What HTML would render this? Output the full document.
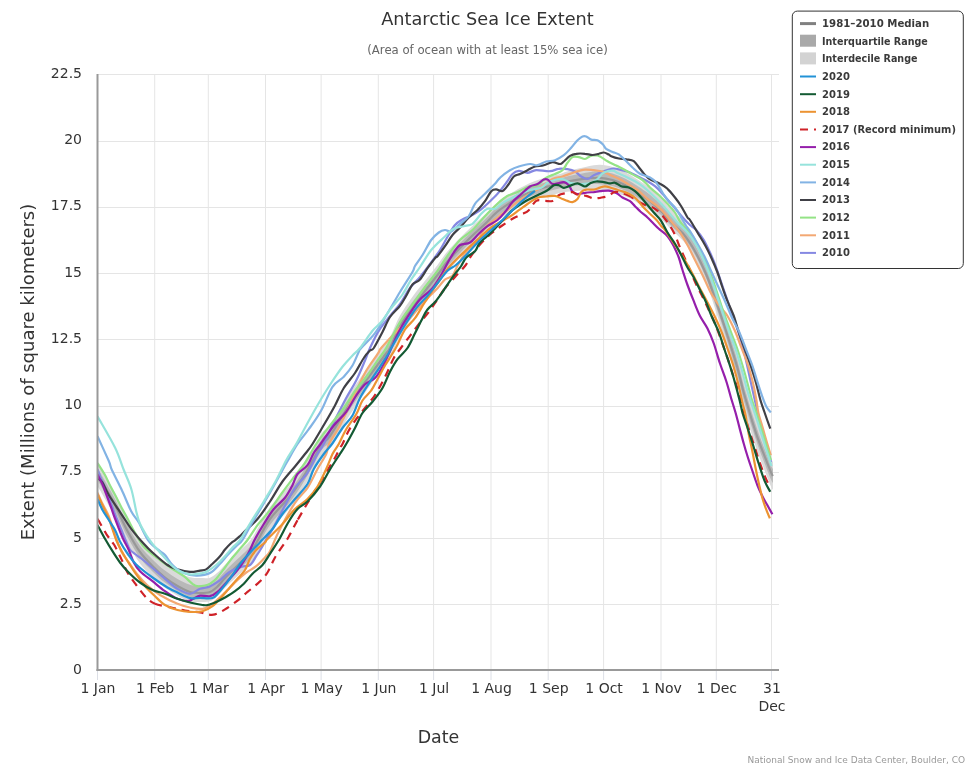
<!DOCTYPE html>
<html lang="en"><head><meta charset="utf-8"><title>Antarctic Sea Ice Extent</title>
<style>
html,body{margin:0;padding:0;background:#fff;}
body{width:975px;height:768px;overflow:hidden;}
svg{display:block;font-family:'DejaVu Sans','Liberation Sans',sans-serif;}
.lg text{font-family:'DejaVu Sans','Liberation Sans',sans-serif;font-weight:bold;font-size:10.5px;fill:#3a3a3a;}
.ax text{font-size:14px;fill:#333;}
.s{fill:none;stroke-width:2.2;stroke-linejoin:round;stroke-linecap:butt;}
</style></head><body>
<svg width="975" height="768" viewBox="0 0 975 768">
<rect x="0" y="0" width="975" height="768" fill="#ffffff"/>

<g stroke="#e5e5e5" stroke-width="1" fill="none">
<path d="M154.7 74V670"/>
<path d="M208.3 74V670"/>
<path d="M265.5 74V670"/>
<path d="M321.1 74V670"/>
<path d="M378.3 74V670"/>
<path d="M433.6 74V670"/>
<path d="M491.0 74V670"/>
<path d="M548.2 74V670"/>
<path d="M603.6 74V670"/>
<path d="M661.0 74V670"/>
<path d="M716.3 74V670"/>
<path d="M771.5 74V670"/>
<path d="M97 74.5H779"/>
<path d="M97 141.5H779"/>
<path d="M97 207.5H779"/>
<path d="M97 273.5H779"/>
<path d="M97 339.5H779"/>
<path d="M97 406.5H779"/>
<path d="M97 472.5H779"/>
<path d="M97 538.5H779"/>
<path d="M97 604.5H779"/>
</g>
<g stroke="#dcdfe6" stroke-width="1" fill="none">
<path d="M97.5 670V680"/>
<path d="M154.7 670V680"/>
<path d="M208.3 670V680"/>
<path d="M265.5 670V680"/>
<path d="M321.1 670V680"/>
<path d="M378.3 670V680"/>
<path d="M433.6 670V680"/>
<path d="M491.0 670V680"/>
<path d="M548.2 670V680"/>
<path d="M603.6 670V680"/>
<path d="M661.0 670V680"/>
<path d="M716.3 670V680"/>
<path d="M771.5 670V680"/>
</g>
<defs><clipPath id="plot"><rect x="97.5" y="74" width="681" height="596"/></clipPath></defs>
<g clip-path="url(#plot)">
<path d="M97.5 462.0C98.8 464.2 102.1 469.8 105.0 475.0C107.9 480.2 111.2 485.7 115.0 493.0C118.8 500.3 123.3 511.2 127.5 519.0C131.7 526.8 135.8 533.9 140.0 539.5C144.2 545.1 148.3 548.8 152.5 552.9C156.7 556.9 160.8 560.6 165.0 563.8C169.2 566.9 173.3 569.5 177.5 571.8C181.7 574.0 186.2 576.3 190.0 577.3C193.8 578.4 196.7 577.9 200.0 578.0C203.3 578.1 207.2 578.5 210.0 577.7C212.8 576.9 214.5 575.3 217.0 573.1C219.5 571.0 221.7 568.0 225.0 564.7C228.3 561.3 232.8 557.2 237.0 553.2C241.2 549.2 246.5 544.9 250.0 540.7C253.5 536.4 254.7 533.5 258.0 527.9C261.3 522.3 264.9 514.1 270.0 507.1C275.1 500.2 283.5 492.5 288.8 486.2C294.0 479.8 297.4 474.7 301.2 468.8C305.1 462.9 308.5 456.7 312.0 450.7C315.5 444.8 319.0 437.2 322.0 432.9C325.0 428.6 326.0 430.6 330.0 425.0C334.0 419.4 340.2 408.1 346.0 399.1C351.8 390.2 358.5 380.4 365.0 371.3C371.5 362.2 380.8 350.1 385.0 344.5C389.2 338.8 387.5 342.3 390.0 337.5C392.5 332.7 396.2 322.4 400.0 315.6C403.8 308.8 408.3 302.5 412.5 296.7C416.7 290.9 420.8 286.1 425.0 280.8C429.2 275.5 433.8 269.7 437.5 264.9C441.2 260.1 443.2 256.4 447.0 252.0C450.8 247.5 455.8 242.4 460.0 238.1C464.2 233.9 467.8 230.3 472.0 226.3C476.2 222.4 480.8 218.4 485.0 214.5C489.2 210.6 492.8 206.1 497.0 202.7C501.2 199.2 506.2 196.3 510.0 193.9C513.8 191.4 516.7 189.8 520.0 188.0C523.3 186.2 526.7 184.3 530.0 182.9C533.3 181.4 536.7 180.3 540.0 179.2C543.3 178.2 546.7 177.5 550.0 176.6C553.3 175.8 556.7 175.0 560.0 174.0C563.3 173.0 565.4 171.9 570.0 170.6C574.6 169.4 582.5 167.5 587.5 166.5C592.5 165.5 595.8 164.7 600.0 164.8C604.2 164.8 608.3 165.8 612.5 167.0C616.7 168.2 620.8 169.9 625.0 172.0C629.2 174.1 633.3 176.8 637.5 179.5C641.7 182.2 645.8 184.9 650.0 188.2C654.2 191.6 659.0 196.0 662.5 199.5C666.0 203.0 667.7 205.8 671.2 209.5C674.8 213.2 680.2 217.4 683.8 221.5C687.3 225.6 689.8 229.6 692.5 234.0C695.2 238.4 697.5 242.9 700.0 248.0C702.5 253.1 705.2 258.9 707.5 264.5C709.8 270.1 711.7 275.9 713.8 281.8C715.8 287.6 718.0 293.5 720.0 299.3C722.0 305.2 724.0 310.9 726.0 316.9C728.0 323.0 730.0 329.2 732.0 335.5C734.0 341.9 736.2 348.5 738.0 355.1C739.8 361.7 741.6 369.7 743.0 375.1C744.4 380.4 745.0 382.0 746.5 387.2C748.0 392.4 750.1 399.8 752.1 406.2C754.1 412.5 756.2 419.2 758.3 425.2C760.4 431.1 762.5 436.5 764.6 442.0C766.7 447.4 769.4 454.5 770.8 457.8C772.2 461.2 772.5 461.3 772.9 462.0L772.9 490.0C772.5 489.3 772.2 489.2 770.8 486.0C769.4 482.7 766.7 475.8 764.6 470.5C762.5 465.2 760.4 459.9 758.3 454.0C756.2 448.2 754.1 441.6 752.1 435.4C750.1 429.2 748.0 421.9 746.5 416.8C745.0 411.7 744.4 410.3 743.0 404.9C741.6 399.5 739.8 391.5 738.0 384.6C736.2 377.7 734.0 370.3 732.0 363.4C730.0 356.5 728.0 349.8 726.0 343.2C724.0 336.6 722.0 330.4 720.0 324.0C718.0 317.6 715.8 311.1 713.8 304.8C711.7 298.4 709.8 292.1 707.5 286.0C705.2 279.9 702.5 273.3 700.0 268.0C697.5 262.7 695.2 258.4 692.5 254.0C689.8 249.6 687.3 245.6 683.8 241.5C680.2 237.4 674.8 233.0 671.2 229.5C667.7 226.0 666.0 223.5 662.5 220.2C659.0 217.0 654.2 213.2 650.0 210.2C645.8 207.3 641.7 205.0 637.5 202.7C633.3 200.3 629.2 197.9 625.0 196.1C620.8 194.4 616.7 193.0 612.5 192.1C608.3 191.2 604.2 191.0 600.0 190.8C595.8 190.5 592.5 190.2 587.5 190.3C582.5 190.4 574.6 190.9 570.0 191.4C565.4 191.8 563.3 192.3 560.0 193.0C556.7 193.7 553.3 194.6 550.0 195.4C546.7 196.2 543.3 196.8 540.0 197.8C536.7 198.7 533.3 199.8 530.0 201.1C526.7 202.5 523.3 204.2 520.0 206.0C516.7 207.8 513.8 209.6 510.0 212.1C506.2 214.7 501.2 217.8 497.0 221.3C492.8 224.9 489.2 229.4 485.0 233.5C480.8 237.6 476.2 241.6 472.0 245.7C467.8 249.7 464.2 253.5 460.0 257.9C455.8 262.2 450.8 267.5 447.0 272.0C443.2 276.6 441.2 280.2 437.5 285.1C433.8 290.0 429.2 295.8 425.0 301.2C420.8 306.6 416.7 311.4 412.5 317.3C408.3 323.2 403.8 329.6 400.0 336.4C396.2 343.3 392.5 353.6 390.0 358.5C387.5 363.4 389.2 359.8 385.0 365.5C380.8 371.2 371.5 383.5 365.0 392.7C358.5 401.9 351.8 411.8 346.0 420.9C340.2 429.9 334.0 441.3 330.0 447.0C326.0 452.7 325.0 450.7 322.0 455.1C319.0 459.5 315.5 467.2 312.0 473.3C308.5 479.3 305.1 485.6 301.2 491.7C297.4 497.7 294.0 502.8 288.8 509.3C283.5 515.9 275.1 523.8 270.0 530.9C264.9 537.9 261.3 546.3 258.0 551.9C254.7 557.4 253.5 560.2 250.0 564.3C246.5 568.4 241.2 572.6 237.0 576.5C232.8 580.4 228.3 584.5 225.0 587.8C221.7 591.2 219.5 594.3 217.0 596.6C214.5 598.8 212.8 600.4 210.0 601.3C207.2 602.2 203.3 602.0 200.0 602.0C196.7 602.0 193.8 602.4 190.0 601.3C186.2 600.3 181.7 598.0 177.5 595.8C173.3 593.5 169.2 590.9 165.0 587.8C160.8 584.6 156.7 580.9 152.5 576.9C148.3 572.8 144.2 569.1 140.0 563.5C135.8 557.9 131.7 550.8 127.5 543.0C123.3 535.2 118.8 524.3 115.0 517.0C111.2 509.7 107.9 504.2 105.0 499.0C102.1 493.8 98.8 488.2 97.5 486.0Z" fill="#dadada" stroke="none"/>
<path d="M97.5 468.0C98.8 470.2 102.1 475.8 105.0 481.0C107.9 486.2 111.2 491.7 115.0 499.0C118.8 506.3 123.3 517.2 127.5 525.0C131.7 532.8 135.8 540.0 140.0 545.8C144.2 551.5 148.3 555.3 152.5 559.4C156.7 563.6 160.8 567.4 165.0 570.6C169.2 573.9 173.3 576.5 177.5 578.9C181.7 581.2 186.2 583.6 190.0 584.7C193.8 585.8 196.7 585.5 200.0 585.5C203.3 585.5 207.2 585.7 210.0 584.8C212.8 583.9 214.5 582.3 217.0 580.1C219.5 577.8 221.7 574.7 225.0 571.3C228.3 567.9 232.8 563.7 237.0 559.6C241.2 555.5 246.5 551.1 250.0 546.8C253.5 542.6 254.7 539.6 258.0 534.0C261.3 528.3 264.9 520.1 270.0 513.1C275.1 506.1 283.5 498.4 288.8 492.0C294.0 485.5 297.4 480.5 301.2 474.5C305.1 468.6 308.5 462.4 312.0 456.4C315.5 450.4 319.0 442.8 322.0 438.4C325.0 434.1 326.0 436.1 330.0 430.5C334.0 424.9 340.2 413.5 346.0 404.6C351.8 395.6 358.5 385.8 365.0 376.6C371.5 367.5 380.8 355.4 385.0 349.7C389.2 344.1 387.5 347.6 390.0 342.8C392.5 337.9 396.2 327.6 400.0 320.8C403.8 314.0 408.3 307.7 412.5 301.8C416.7 296.0 420.8 291.2 425.0 285.9C429.2 280.6 433.8 274.8 437.5 269.9C441.2 265.1 443.2 261.5 447.0 257.0C450.8 252.5 455.8 247.4 460.0 243.1C464.2 238.8 467.8 235.1 472.0 231.2C476.2 227.2 480.8 223.2 485.0 219.2C489.2 215.3 492.8 210.8 497.0 207.3C501.2 203.9 506.2 200.9 510.0 198.4C513.8 196.0 516.7 194.3 520.0 192.5C523.3 190.7 526.7 188.9 530.0 187.4C533.3 186.0 536.7 184.9 540.0 183.9C543.3 182.9 546.7 182.2 550.0 181.3C553.3 180.5 556.7 179.7 560.0 178.8C563.3 177.8 565.4 176.9 570.0 175.8C574.6 174.8 582.5 173.2 587.5 172.4C592.5 171.7 595.8 171.1 600.0 171.2C604.2 171.4 608.3 172.3 612.5 173.5C616.7 174.7 620.8 176.4 625.0 178.5C629.2 180.6 633.3 183.3 637.5 186.0C641.7 188.7 645.8 191.4 650.0 194.8C654.2 198.1 659.0 202.5 662.5 206.0C666.0 209.5 667.7 212.3 671.2 216.0C674.8 219.7 680.2 223.9 683.8 228.0C687.3 232.1 689.8 236.1 692.5 240.5C695.2 244.9 697.5 249.4 700.0 254.5C702.5 259.6 705.2 265.4 707.5 271.0C709.8 276.6 711.7 282.5 713.8 288.4C715.8 294.2 718.0 300.2 720.0 306.2C722.0 312.1 724.0 317.9 726.0 324.0C728.0 330.1 730.0 336.3 732.0 342.8C734.0 349.2 736.2 355.9 738.0 362.6C739.8 369.2 741.6 377.2 743.0 382.5C744.4 387.9 745.0 389.4 746.5 394.6C748.0 399.8 750.1 407.2 752.1 413.5C754.1 419.8 756.2 426.4 758.3 432.4C760.4 438.3 762.5 443.7 764.6 449.1C766.7 454.5 769.4 461.6 770.8 464.9C772.2 468.2 772.5 468.3 772.9 469.0L772.9 483.0C772.5 482.3 772.2 482.2 770.8 478.9C769.4 475.7 766.7 468.7 764.6 463.4C762.5 458.0 760.4 452.7 758.3 446.8C756.2 440.9 754.1 434.4 752.1 428.1C750.1 421.9 748.0 414.5 746.5 409.4C745.0 404.3 744.4 402.8 743.0 397.5C741.6 392.1 739.8 384.1 738.0 377.3C736.2 370.5 734.0 363.4 732.0 356.7C730.0 350.0 728.0 343.5 726.0 337.1C724.0 330.7 722.0 324.7 720.0 318.5C718.0 312.3 715.8 306.0 713.8 299.9C711.7 293.8 709.8 287.6 707.5 281.8C705.2 275.9 702.5 269.7 700.0 264.5C697.5 259.3 695.2 254.9 692.5 250.5C689.8 246.1 687.3 242.1 683.8 238.0C680.2 233.9 674.8 229.6 671.2 226.0C667.7 222.4 666.0 219.8 662.5 216.4C659.0 213.0 654.2 208.9 650.0 205.8C645.8 202.6 641.7 200.1 637.5 197.6C633.3 195.1 629.2 192.5 625.0 190.6C620.8 188.6 616.7 187.1 612.5 186.0C608.3 185.0 604.2 184.5 600.0 184.2C595.8 184.0 592.5 184.0 587.5 184.4C582.5 184.7 574.6 185.5 570.0 186.2C565.4 186.8 563.3 187.5 560.0 188.2C556.7 189.0 553.3 189.9 550.0 190.7C546.7 191.5 543.3 192.1 540.0 193.1C536.7 194.1 533.3 195.2 530.0 196.6C526.7 198.0 523.3 199.7 520.0 201.5C516.7 203.3 513.8 205.0 510.0 207.6C506.2 210.1 501.2 213.1 497.0 216.7C492.8 220.2 489.2 224.7 485.0 228.8C480.8 232.8 476.2 236.8 472.0 240.8C467.8 244.9 464.2 248.6 460.0 252.9C455.8 257.3 450.8 262.5 447.0 267.0C443.2 271.5 441.2 275.2 437.5 280.1C433.8 284.9 429.2 290.8 425.0 296.1C420.8 301.5 416.7 306.3 412.5 312.2C408.3 318.0 403.8 324.4 400.0 331.2C396.2 338.1 392.5 348.4 390.0 353.2C387.5 358.1 389.2 354.6 385.0 360.3C380.8 366.0 371.5 378.2 365.0 387.4C358.5 396.5 351.8 406.4 346.0 415.4C340.2 424.5 334.0 435.8 330.0 441.5C326.0 447.2 325.0 445.2 322.0 449.6C319.0 453.9 315.5 461.6 312.0 467.6C308.5 473.7 305.1 480.0 301.2 486.0C297.4 491.9 294.0 497.0 288.8 503.5C283.5 510.0 275.1 517.9 270.0 524.9C264.9 532.0 261.3 540.3 258.0 545.9C254.7 551.6 253.5 554.4 250.0 558.7C246.5 562.9 241.2 567.2 237.0 571.2C232.8 575.3 228.3 579.5 225.0 582.9C221.7 586.3 219.5 589.5 217.0 591.8C214.5 594.1 212.8 595.7 210.0 596.7C207.2 597.6 203.3 597.5 200.0 597.5C196.7 597.5 193.8 597.8 190.0 596.7C186.2 595.6 181.7 593.2 177.5 590.9C173.3 588.5 169.2 585.9 165.0 582.6C160.8 579.4 156.7 575.6 152.5 571.4C148.3 567.3 144.2 563.5 140.0 557.8C135.8 552.0 131.7 544.8 127.5 537.0C123.3 529.2 118.8 518.3 115.0 511.0C111.2 503.7 107.9 498.2 105.0 493.0C102.1 487.8 98.8 482.2 97.5 480.0Z" fill="#b8b8b8" stroke="none"/>
<path class="s" d="M97.5 474.0C98.8 476.2 102.1 481.8 105.0 487.0C107.9 492.2 111.2 497.7 115.0 505.0C118.8 512.3 123.3 523.2 127.5 531.0C131.7 538.8 135.8 546.2 140.0 552.0C144.2 557.8 148.3 561.8 152.5 566.0C156.7 570.2 160.8 574.2 165.0 577.5C169.2 580.8 173.3 583.6 177.5 586.0C181.7 588.4 186.2 590.8 190.0 592.0C193.8 593.2 196.7 593.0 200.0 593.0C203.3 593.0 207.2 593.0 210.0 592.0C212.8 591.0 214.5 589.3 217.0 587.0C219.5 584.7 221.7 581.5 225.0 578.0C228.3 574.5 232.8 570.2 237.0 566.0C241.2 561.8 246.5 557.3 250.0 553.0C253.5 548.7 254.7 545.7 258.0 540.0C261.3 534.3 264.9 526.0 270.0 519.0C275.1 512.0 283.5 504.2 288.8 497.8C294.0 491.3 297.4 486.2 301.2 480.2C305.1 474.3 308.5 468.0 312.0 462.0C315.5 456.0 319.0 448.3 322.0 444.0C325.0 439.7 326.0 441.7 330.0 436.0C334.0 430.3 340.2 419.0 346.0 410.0C351.8 401.0 358.5 391.2 365.0 382.0C371.5 372.8 380.8 360.7 385.0 355.0C389.2 349.3 387.5 352.8 390.0 348.0C392.5 343.2 396.2 332.8 400.0 326.0C403.8 319.2 408.3 312.8 412.5 307.0C416.7 301.2 420.8 296.3 425.0 291.0C429.2 285.7 433.8 279.8 437.5 275.0C441.2 270.2 443.2 266.5 447.0 262.0C450.8 257.5 455.8 252.3 460.0 248.0C464.2 243.7 467.8 240.0 472.0 236.0C476.2 232.0 480.8 228.0 485.0 224.0C489.2 220.0 492.8 215.5 497.0 212.0C501.2 208.5 506.2 205.5 510.0 203.0C513.8 200.5 516.7 198.8 520.0 197.0C523.3 195.2 526.7 193.4 530.0 192.0C533.3 190.6 536.7 189.5 540.0 188.5C543.3 187.5 546.7 186.8 550.0 186.0C553.3 185.2 556.7 184.3 560.0 183.5C563.3 182.7 565.4 181.8 570.0 181.0C574.6 180.2 582.5 178.9 587.5 178.4C592.5 177.9 595.8 177.5 600.0 177.8C604.2 178.0 608.3 178.8 612.5 180.0C616.7 181.2 620.8 182.9 625.0 185.0C629.2 187.1 633.3 189.8 637.5 192.5C641.7 195.2 645.8 197.9 650.0 201.2C654.2 204.6 659.0 209.0 662.5 212.5C666.0 216.0 667.7 218.8 671.2 222.5C674.8 226.2 680.2 230.4 683.8 234.5C687.3 238.6 689.8 242.6 692.5 247.0C695.2 251.4 697.5 255.9 700.0 261.0C702.5 266.1 705.2 271.8 707.5 277.5C709.8 283.2 711.7 289.1 713.8 295.0C715.8 300.9 718.0 307.0 720.0 313.0C722.0 319.0 724.0 324.8 726.0 331.0C728.0 337.2 730.0 343.5 732.0 350.0C734.0 356.5 736.2 363.3 738.0 370.0C739.8 376.7 741.6 384.7 743.0 390.0C744.4 395.3 745.0 396.9 746.5 402.0C748.0 407.1 750.1 414.5 752.1 420.8C754.1 427.1 756.2 433.7 758.3 439.6C760.4 445.5 762.5 450.9 764.6 456.2C766.7 461.6 769.4 468.6 770.8 471.9C772.2 475.2 772.5 475.3 772.9 476.0" stroke="#989898" style="stroke-width:2.2"/>
<path class="s" d="M97.5 469.3C98.1 470.8 99.8 475.7 101.0 478.5C102.2 481.3 103.2 482.9 104.5 486.0C105.8 489.1 107.2 493.4 108.5 497.0C109.8 500.6 111.1 503.8 112.5 507.5C113.9 511.2 115.5 515.2 117.0 519.0C118.5 522.8 120.0 526.3 121.5 530.0C123.0 533.7 124.6 537.8 126.0 541.0C127.4 544.2 128.5 547.3 130.0 549.5C131.5 551.7 133.3 552.7 135.0 554.0C136.7 555.3 138.1 556.1 140.0 557.5C141.9 558.9 142.1 559.0 146.2 562.5C150.4 566.0 159.8 574.4 165.0 578.8C170.2 583.1 173.3 586.2 177.5 588.8C181.7 591.2 186.2 593.8 190.0 593.8C193.8 593.8 196.9 589.9 200.0 588.8C203.1 587.6 205.6 588.1 208.8 586.9C211.9 585.6 215.4 583.6 218.8 581.2C222.1 578.9 225.0 574.9 228.8 572.5C232.5 570.1 237.7 568.1 241.2 566.9C244.8 565.6 247.5 566.8 250.0 565.0C252.5 563.2 254.2 559.4 256.2 556.2C258.3 553.1 260.7 549.3 262.5 546.2C264.3 543.2 265.4 540.7 267.0 538.0C268.6 535.3 269.8 533.8 272.0 530.0C274.2 526.2 277.3 520.0 280.0 515.0C282.7 510.0 285.5 504.5 288.0 500.0C290.5 495.5 291.8 492.3 295.0 487.8C298.2 483.2 303.8 478.4 307.5 472.8C311.2 467.1 314.8 458.8 317.5 454.0C320.2 449.2 320.8 449.7 323.8 444.0C326.7 438.3 331.2 427.7 335.0 420.0C338.8 412.3 342.7 404.6 346.2 398.0C349.8 391.4 353.1 386.8 356.2 380.5C359.4 374.2 362.7 365.9 365.0 360.5C367.3 355.1 367.7 353.0 370.0 348.0C372.3 343.0 375.4 336.1 378.8 330.8C382.1 325.4 386.5 320.5 390.0 316.0C393.5 311.5 396.7 308.7 400.0 304.0C403.3 299.3 406.7 292.5 410.0 288.0C413.3 283.5 416.7 281.0 420.0 277.0C423.3 273.0 426.7 268.5 430.0 264.0C433.3 259.5 437.0 254.7 440.0 250.0C443.0 245.3 445.5 240.2 448.0 236.0C450.5 231.8 452.6 227.8 455.0 225.0C457.4 222.2 460.0 220.9 462.5 219.4C465.0 217.9 467.3 217.6 470.0 216.2C472.7 214.9 475.8 213.3 478.8 211.2C481.7 209.2 484.4 206.7 487.5 203.8C490.6 200.8 494.4 197.2 497.5 193.8C500.6 190.2 503.8 186.0 506.2 182.8C508.8 179.5 510.4 176.0 512.5 174.0C514.6 172.0 516.2 171.1 518.8 170.9C521.2 170.7 524.6 172.9 527.5 172.8C530.4 172.6 532.5 170.5 536.2 170.2C540.0 170.0 546.2 171.5 550.0 171.2C553.8 171.0 555.8 169.1 558.8 168.8C561.7 168.4 564.8 168.8 567.5 169.2C570.2 169.7 572.7 170.3 575.0 171.5C577.3 172.7 579.2 175.2 581.2 176.5C583.3 177.8 585.4 179.2 587.5 179.0C589.6 178.8 591.7 176.3 593.8 175.2C595.8 174.2 597.7 173.6 600.0 172.8C602.3 171.9 605.2 170.7 607.5 170.0C609.8 169.3 611.5 168.5 613.8 168.5C616.0 168.5 618.5 169.3 621.2 170.0C624.0 170.7 627.3 171.5 630.0 172.5C632.7 173.5 634.6 174.8 637.5 176.2C640.4 177.7 644.6 179.6 647.5 181.2C650.4 182.9 652.5 184.2 655.0 186.2C657.5 188.3 660.0 191.0 662.5 193.8C665.0 196.5 667.5 199.6 670.0 202.5C672.5 205.4 675.0 208.3 677.5 211.2C680.0 214.2 682.9 217.7 685.0 220.0C687.1 222.3 688.1 223.3 690.0 225.0C691.9 226.7 694.0 227.5 696.2 230.0C698.5 232.5 701.5 236.2 703.8 240.0C706.0 243.8 707.9 247.9 710.0 252.5C712.1 257.1 714.2 261.9 716.2 267.5C718.3 273.1 720.5 280.5 722.5 286.2C724.5 292.0 726.3 297.0 728.0 302.0C729.7 307.0 730.8 311.2 732.5 316.0C734.2 320.8 736.1 325.0 738.0 331.0C739.9 337.0 742.0 344.1 744.0 352.0C746.0 359.9 747.8 368.5 750.0 378.5C752.2 388.5 755.5 403.4 757.5 412.0C759.5 420.6 760.4 424.0 762.0 430.0C763.6 436.0 765.5 442.7 767.0 448.0C768.5 453.3 770.3 459.7 771.0 462.0" stroke="#8588e2"/>
<path class="s" d="M97.5 492.7C98.3 494.5 100.6 499.8 102.5 503.8C104.4 507.7 106.7 511.0 108.8 516.2C110.8 521.5 112.9 529.2 115.0 535.0C117.1 540.8 119.0 546.7 121.2 551.2C123.5 555.8 126.1 558.7 128.8 562.5C131.4 566.3 134.0 570.2 137.0 574.0C140.0 577.8 143.2 581.5 147.0 585.0C150.8 588.5 154.9 591.9 160.0 595.0C165.1 598.1 172.5 601.7 177.5 603.8C182.5 605.8 185.8 606.7 190.0 607.5C194.2 608.3 198.8 609.4 202.5 608.8C206.2 608.1 208.8 606.5 212.5 603.8C216.2 601.0 220.8 596.5 225.0 592.5C229.2 588.5 234.0 583.3 237.5 580.0C241.0 576.7 243.1 574.8 246.2 572.5C249.4 570.2 253.1 568.8 256.2 566.2C259.4 563.8 262.7 560.0 265.0 557.5C267.3 555.0 267.7 555.6 270.0 551.2C272.3 546.9 274.6 539.6 278.8 531.5C282.9 523.4 290.2 510.0 295.0 502.8C299.8 495.5 303.8 493.4 307.5 487.8C311.2 482.1 314.4 474.6 317.5 469.0C320.6 463.4 324.3 458.2 326.2 454.0C328.2 449.8 326.7 448.8 329.0 444.0C331.3 439.2 336.2 432.8 340.0 425.5C343.8 418.2 347.8 408.8 352.0 400.0C356.2 391.2 360.8 380.6 365.0 373.0C369.2 365.4 374.8 358.4 377.5 354.2C380.2 350.1 378.3 351.5 381.2 348.0C384.2 344.5 390.2 338.0 395.0 333.0C399.8 328.0 404.6 323.8 410.0 318.0C415.4 312.2 422.9 303.2 427.5 298.2C432.1 293.3 434.6 291.4 437.5 288.2C440.4 285.1 442.5 281.6 445.0 279.5C447.5 277.4 450.4 278.0 452.5 275.8C454.6 273.5 455.2 269.7 457.5 265.8C459.8 261.8 462.6 256.3 466.0 252.0C469.4 247.7 474.8 244.0 478.0 240.0C481.2 236.0 481.8 231.7 485.0 228.0C488.2 224.3 492.8 221.3 497.0 218.0C501.2 214.7 506.2 211.0 510.0 208.0C513.8 205.0 516.7 202.3 520.0 200.0C523.3 197.7 526.7 196.0 530.0 194.0C533.3 192.0 536.2 190.5 540.0 188.0C543.8 185.5 548.8 180.9 552.5 179.0C556.2 177.1 558.8 177.7 562.5 176.5C566.2 175.3 571.2 173.2 575.0 172.0C578.8 170.8 581.9 169.9 585.0 169.6C588.1 169.3 590.8 169.9 593.8 170.2C596.7 170.6 599.8 170.7 602.5 171.5C605.2 172.3 607.3 173.8 610.0 175.0C612.7 176.2 615.8 177.3 618.8 178.8C621.7 180.2 624.4 181.9 627.5 183.8C630.6 185.6 634.2 187.5 637.5 190.0C640.8 192.5 644.2 196.0 647.5 198.8C650.8 201.5 654.4 203.5 657.5 206.2C660.6 209.0 664.2 212.7 666.2 215.0C668.3 217.3 667.7 217.1 670.0 220.0C672.3 222.9 677.1 228.3 680.0 232.5C682.9 236.7 685.0 240.4 687.5 245.0C690.0 249.6 692.5 255.0 695.0 260.0C697.5 265.0 700.0 269.8 702.5 275.0C705.0 280.2 707.8 286.9 710.0 291.2C712.2 295.6 714.0 298.0 716.0 301.0C718.0 304.0 720.1 306.5 722.0 309.0C723.9 311.5 725.3 312.3 727.5 316.0C729.7 319.7 732.7 325.8 735.0 331.0C737.3 336.2 739.2 341.8 741.2 347.2C743.3 352.7 745.6 357.9 747.5 363.5C749.4 369.1 751.0 375.1 752.5 381.0C754.0 386.9 755.3 393.8 756.2 399.0C757.2 404.2 757.3 407.8 758.3 412.5C759.3 417.2 761.1 422.1 762.5 427.0C763.9 431.9 765.3 437.0 766.7 441.7C768.1 446.4 770.1 452.9 770.8 455.2" stroke="#f3a873"/>
<path class="s" d="M97.5 463.0C98.8 465.0 102.8 471.0 105.0 475.0C107.2 479.0 108.8 483.2 110.8 487.0C112.8 490.8 114.9 494.5 116.7 498.0C118.5 501.5 119.9 504.6 121.7 508.0C123.5 511.4 125.5 514.7 127.5 518.5C129.6 522.3 131.5 526.6 134.0 531.0C136.5 535.4 139.8 541.4 142.5 545.0C145.2 548.6 147.1 550.0 150.0 552.5C152.9 555.0 156.5 557.4 160.0 560.0C163.5 562.6 167.3 565.3 171.2 568.0C175.2 570.7 180.2 573.6 183.8 576.2C187.3 578.9 190.2 582.1 192.5 583.8C194.8 585.4 195.4 586.0 197.5 586.2C199.6 586.5 202.9 585.9 205.0 585.5C207.1 585.1 208.1 584.9 210.0 583.8C211.9 582.6 213.8 581.5 216.2 578.8C218.8 576.0 222.3 571.0 225.0 567.5C227.7 564.0 230.0 560.6 232.5 557.5C235.0 554.4 237.5 551.7 240.0 548.8C242.5 545.8 244.6 543.9 247.5 540.0C250.4 536.1 253.8 530.2 257.5 525.2C261.2 520.3 265.9 515.6 270.0 510.2C274.1 504.9 278.0 498.5 282.0 493.0C286.0 487.5 290.2 482.0 294.0 477.0C297.8 472.0 301.3 468.2 305.0 462.8C308.7 457.2 312.1 450.2 316.2 444.0C320.4 437.8 325.4 431.5 330.0 425.5C334.6 419.5 339.4 414.0 343.8 408.0C348.1 402.0 352.3 394.7 356.2 389.2C360.2 383.8 364.0 380.3 367.5 375.5C371.0 370.7 374.4 365.1 377.5 360.5C380.6 355.9 382.5 354.4 386.2 348.0C390.0 341.6 395.6 329.2 400.0 322.0C404.4 314.8 408.3 310.3 412.5 304.5C416.7 298.7 420.8 292.6 425.0 287.0C429.2 281.4 433.9 275.8 437.5 270.8C441.1 265.7 443.1 261.8 446.9 256.6C450.6 251.5 455.7 244.4 460.0 240.0C464.3 235.6 468.3 234.0 472.5 230.0C476.7 226.0 480.8 220.6 485.0 216.2C489.2 211.9 494.2 206.9 497.5 203.8C500.8 200.6 503.1 198.9 505.0 197.5C506.9 196.1 506.5 196.2 508.8 195.2C511.0 194.2 515.4 193.0 518.8 191.5C522.1 190.0 525.6 187.5 528.8 186.5C531.9 185.5 534.6 186.7 537.5 185.2C540.4 183.8 543.3 179.6 546.2 177.8C549.2 175.9 552.3 175.2 555.0 174.0C557.7 172.8 560.4 172.1 562.5 170.2C564.6 168.4 565.8 164.9 567.5 162.8C569.2 160.6 570.6 158.0 572.5 157.1C574.4 156.2 576.7 156.8 578.8 157.1C580.8 157.4 583.1 159.1 585.0 159.0C586.9 158.9 588.3 156.9 590.0 156.2C591.7 155.6 593.3 155.2 595.0 155.2C596.7 155.3 597.9 155.5 600.0 156.5C602.1 157.5 604.8 159.7 607.5 161.2C610.2 162.8 613.3 164.1 616.2 165.6C619.2 167.1 622.3 168.5 625.0 170.0C627.7 171.5 629.6 172.7 632.5 174.4C635.4 176.1 639.6 177.8 642.5 180.0C645.4 182.2 647.3 185.0 650.0 187.5C652.7 190.0 655.8 192.3 658.8 195.0C661.7 197.7 664.8 200.8 667.5 203.8C670.2 206.7 672.8 209.3 675.0 212.5C677.2 215.7 678.1 219.0 681.0 223.0C683.9 227.0 688.9 230.9 692.5 236.2C696.1 241.6 699.6 249.0 702.5 255.0C705.4 261.0 707.7 266.7 710.0 272.5C712.3 278.3 714.0 283.4 716.2 290.0C718.5 296.6 721.1 305.2 723.5 312.0C725.9 318.8 728.1 324.5 730.5 331.0C732.9 337.5 735.7 344.1 738.0 351.0C740.3 357.9 742.6 365.6 744.5 372.2C746.4 378.9 748.2 386.4 749.5 391.0C750.8 395.6 750.8 396.2 752.0 400.0C753.2 403.8 754.9 408.6 756.5 413.5C758.1 418.4 759.8 423.8 761.5 429.2C763.2 434.6 764.9 440.6 766.5 445.8C768.1 451.0 770.2 457.8 771.0 460.2" stroke="#94e386"/>
<path class="s" d="M97.5 478.0C98.3 478.8 100.6 479.7 102.5 482.5C104.4 485.3 105.6 489.8 108.8 495.0C111.9 500.2 117.5 508.1 121.2 513.8C125.0 519.4 127.5 523.8 131.2 528.8C135.0 533.8 140.2 539.8 143.8 543.8C147.3 547.7 148.5 549.0 152.5 552.5C156.5 556.0 163.3 562.2 167.5 565.0C171.7 567.8 173.8 568.2 177.5 569.4C181.2 570.5 186.2 571.7 190.0 571.9C193.8 572.1 197.3 571.0 200.0 570.6C202.7 570.2 204.2 570.5 206.2 569.4C208.3 568.3 210.2 565.9 212.5 563.8C214.8 561.6 217.9 558.6 220.0 556.2C222.1 553.9 223.1 551.7 225.0 549.5C226.9 547.3 229.6 544.5 231.2 543.0C232.9 541.5 233.5 541.5 235.0 540.3C236.5 539.1 238.3 537.5 240.0 536.0C241.7 534.5 242.1 533.8 245.0 531.0C247.9 528.2 253.3 523.9 257.5 519.0C261.7 514.1 265.8 507.8 270.0 501.5C274.2 495.2 278.3 487.3 282.5 481.5C286.7 475.7 291.2 471.1 295.0 466.5C298.8 461.9 302.1 457.8 305.0 454.0C307.9 450.2 309.2 449.2 312.5 444.0C315.8 438.8 321.2 429.4 325.0 423.0C328.8 416.6 331.9 411.3 335.0 405.5C338.1 399.7 340.4 393.4 343.8 388.0C347.1 382.6 351.7 378.0 355.0 373.0C358.3 368.0 361.2 361.8 363.8 358.0C366.2 354.2 368.3 352.2 370.0 350.5C371.7 348.8 371.7 351.1 373.8 348.0C375.8 344.9 379.8 337.2 382.5 332.0C385.2 326.8 387.1 321.4 390.0 317.0C392.9 312.6 397.3 309.3 400.0 305.8C402.7 302.2 404.2 299.3 406.2 295.8C408.3 292.2 410.2 287.2 412.5 284.5C414.8 281.8 417.5 282.2 420.0 279.5C422.5 276.8 425.0 271.8 427.5 268.2C430.0 264.7 433.3 260.2 435.0 258.2C436.7 256.2 435.8 258.2 437.5 256.2C439.2 254.2 442.5 249.8 445.0 246.2C447.5 242.7 450.0 238.1 452.5 235.0C455.0 231.9 457.3 230.4 460.0 227.5C462.7 224.6 465.8 220.4 468.8 217.5C471.7 214.6 474.8 212.7 477.5 210.0C480.2 207.3 482.7 204.4 485.0 201.2C487.3 198.1 489.4 193.2 491.2 191.2C493.1 189.3 494.4 189.4 496.2 189.4C498.1 189.4 500.4 191.9 502.5 191.0C504.6 190.1 506.9 186.4 508.8 184.0C510.6 181.6 511.9 178.2 513.8 176.5C515.6 174.8 517.7 175.0 520.0 174.0C522.3 173.0 525.0 171.5 527.5 170.2C530.0 169.0 532.3 167.3 535.0 166.5C537.7 165.7 540.8 166.0 543.8 165.2C546.7 164.5 549.8 162.3 552.5 162.1C555.2 161.9 558.1 164.1 560.0 164.0C561.9 163.9 562.1 162.8 563.8 161.5C565.4 160.2 567.9 157.2 570.0 155.9C572.1 154.6 573.8 154.1 576.2 153.8C578.8 153.4 582.3 153.5 585.0 153.8C587.7 154.0 590.2 155.0 592.5 155.0C594.8 155.0 596.9 154.2 598.8 153.8C600.6 153.3 602.1 152.4 603.8 152.5C605.4 152.6 607.5 154.0 608.8 154.6C610.0 155.2 609.6 155.6 611.2 156.2C612.9 156.9 616.2 158.0 618.8 158.5C621.2 159.0 623.8 158.9 626.2 159.4C628.8 159.9 631.5 159.7 633.8 161.2C636.0 162.8 638.1 166.5 640.0 168.8C641.9 171.0 643.3 173.2 645.0 175.0C646.7 176.8 647.5 177.9 650.0 179.4C652.5 180.9 657.1 182.2 660.0 183.8C662.9 185.3 665.0 186.5 667.5 188.8C670.0 191.0 672.7 194.6 675.0 197.5C677.3 200.4 679.2 202.9 681.2 206.2C683.3 209.6 686.0 215.2 687.5 217.5C689.0 219.8 688.3 217.5 690.0 220.0C691.7 222.5 695.0 228.3 697.5 232.5C700.0 236.7 702.7 240.8 705.0 245.0C707.3 249.2 709.2 252.9 711.2 257.5C713.3 262.1 715.6 267.5 717.5 272.5C719.4 277.5 720.8 282.7 722.5 287.5C724.2 292.3 725.6 296.5 727.5 301.2C729.4 306.0 731.9 310.8 733.8 316.0C735.6 321.2 736.9 326.6 738.8 332.2C740.6 337.9 742.9 343.9 745.0 349.8C747.1 355.6 749.4 361.6 751.2 367.2C753.1 372.9 754.7 378.0 756.2 383.5C757.8 389.0 759.0 395.2 760.4 400.0C761.8 404.8 763.0 407.7 764.6 412.5C766.2 417.3 769.3 425.9 770.3 428.6" stroke="#404046"/>
<path class="s" d="M97.5 436.3C99.4 440.4 106.3 455.4 108.8 461.0C111.2 466.6 109.8 465.4 111.9 470.0C114.0 474.6 118.0 481.9 121.2 488.8C124.5 495.6 128.3 505.6 131.2 511.2C134.2 516.9 135.8 517.5 138.8 522.5C141.7 527.5 145.2 536.5 148.8 541.2C152.3 546.0 157.3 549.0 160.0 551.2C162.7 553.5 162.9 552.7 165.0 555.0C167.1 557.3 169.6 562.1 172.5 565.0C175.4 567.9 178.5 570.7 182.5 572.5C186.5 574.3 191.7 575.5 196.2 575.6C200.8 575.7 206.0 575.0 210.0 573.0C214.0 571.0 216.9 567.0 220.0 563.8C223.1 560.5 225.8 556.9 228.8 553.8C231.7 550.6 235.2 547.3 237.5 545.0C239.8 542.7 240.1 543.7 242.5 540.0C244.9 536.3 248.4 529.2 252.0 523.0C255.6 516.8 260.0 509.8 264.0 503.0C268.0 496.2 272.2 488.8 276.0 482.0C279.8 475.2 283.4 468.3 287.0 462.0C290.6 455.7 293.9 449.5 297.5 444.0C301.1 438.5 304.8 434.8 308.8 429.2C312.7 423.7 317.3 417.6 321.2 410.5C325.2 403.4 328.8 392.4 332.5 386.8C336.2 381.1 340.4 380.3 343.8 376.8C347.1 373.2 350.0 369.7 352.5 365.5C355.0 361.3 357.3 354.7 358.8 351.8C360.2 348.8 358.5 351.1 361.2 348.0C364.0 344.9 370.6 339.0 375.0 333.2C379.4 327.5 383.3 320.1 387.5 313.2C391.7 306.4 395.8 298.9 400.0 292.0C404.2 285.1 410.0 276.3 412.5 272.0C415.0 267.7 413.3 268.8 415.0 266.0C416.7 263.2 419.8 259.3 422.5 255.0C425.2 250.7 428.5 243.8 431.2 240.0C434.0 236.2 436.5 234.2 438.8 232.5C441.0 230.8 442.9 230.2 445.0 230.0C447.1 229.8 448.8 232.5 451.2 231.5C453.8 230.5 457.1 226.3 460.0 223.8C462.9 221.2 466.2 219.6 468.8 216.2C471.2 212.9 472.3 207.5 475.0 203.8C477.7 200.0 481.7 197.1 485.0 193.8C488.3 190.4 492.5 186.4 495.0 183.8C497.5 181.1 497.5 180.0 500.0 177.8C502.5 175.5 506.9 172.1 510.0 170.2C513.1 168.4 515.4 167.5 518.8 166.5C522.1 165.5 526.9 164.2 530.0 164.0C533.1 163.8 534.8 165.7 537.5 165.2C540.2 164.8 543.3 162.3 546.2 161.5C549.2 160.7 552.1 161.3 555.0 160.2C557.9 159.2 561.0 157.3 563.8 155.2C566.5 153.2 569.0 150.2 571.2 147.8C573.5 145.2 575.6 142.1 577.5 140.2C579.4 138.4 581.0 137.1 582.5 136.5C584.0 135.9 584.8 136.0 586.2 136.5C587.7 137.0 589.4 139.0 591.2 139.6C593.1 140.2 595.6 139.5 597.5 140.2C599.4 141.0 601.0 142.6 602.5 144.0C604.0 145.4 604.6 147.4 606.2 148.8C607.9 150.1 610.4 151.0 612.5 151.9C614.6 152.8 616.7 153.1 618.8 154.4C620.8 155.8 622.7 157.8 625.0 160.0C627.3 162.2 630.0 165.2 632.5 167.5C635.0 169.8 637.1 172.1 640.0 173.8C642.9 175.4 647.3 176.0 650.0 177.5C652.7 179.0 654.2 180.0 656.2 182.5C658.3 185.0 660.6 189.6 662.5 192.5C664.4 195.4 665.4 197.5 667.5 200.0C669.6 202.5 672.7 204.6 675.0 207.5C677.3 210.4 679.4 214.4 681.2 217.5C683.1 220.6 684.8 223.7 686.2 226.0C687.7 228.3 688.1 228.3 690.0 231.2C691.9 234.2 695.0 239.4 697.5 243.8C700.0 248.1 702.7 252.9 705.0 257.5C707.3 262.1 709.2 266.7 711.2 271.2C713.3 275.8 715.2 280.0 717.5 285.0C719.8 290.0 722.7 296.1 725.0 301.2C727.3 306.4 729.0 311.0 731.2 316.0C733.5 321.0 736.2 325.4 738.8 331.0C741.2 336.6 744.0 343.9 746.2 349.8C748.5 355.6 750.6 360.6 752.5 366.0C754.4 371.4 755.8 377.0 757.5 382.2C759.2 387.5 761.0 393.1 762.5 397.2C764.0 401.4 765.3 404.8 766.7 407.3C768.1 409.8 770.1 411.6 770.8 412.5" stroke="#82b3e4"/>
<path class="s" d="M97.5 416.3C100.4 421.5 110.6 438.6 115.0 447.5C119.4 456.4 121.0 463.1 123.8 470.0C126.5 476.9 129.2 481.9 131.2 488.8C133.3 495.6 134.8 505.4 136.2 511.2C137.7 517.1 138.3 519.8 140.0 523.8C141.7 527.7 144.2 531.7 146.2 535.0C148.3 538.3 150.2 540.8 152.5 543.8C154.8 546.7 156.9 549.0 160.0 552.5C163.1 556.0 168.3 562.1 171.2 565.0C174.2 567.9 174.4 568.4 177.5 570.0C180.6 571.6 185.8 573.9 190.0 574.4C194.2 574.9 199.6 573.5 202.5 573.0C205.4 572.5 205.2 572.6 207.5 571.2C209.8 569.9 213.3 567.5 216.2 565.0C219.2 562.5 222.3 559.2 225.0 556.2C227.7 553.3 230.0 550.2 232.5 547.5C235.0 544.8 236.9 544.3 240.0 540.0C243.1 535.7 247.3 527.9 251.2 521.5C255.2 515.1 259.6 508.4 263.8 501.5C267.9 494.6 272.5 487.1 276.2 480.2C280.0 473.4 282.9 466.3 286.2 460.2C289.6 454.2 292.9 449.8 296.2 444.0C299.6 438.2 302.5 432.3 306.2 425.5C310.0 418.7 314.6 410.1 318.8 403.0C322.9 395.9 327.3 389.0 331.2 383.0C335.2 377.0 339.0 371.3 342.5 366.8C346.0 362.2 349.6 358.6 352.5 355.5C355.4 352.4 356.7 352.1 360.0 348.0C363.3 343.9 369.0 335.1 372.5 330.8C376.0 326.4 378.1 325.8 381.2 322.0C384.4 318.2 387.7 312.8 391.2 308.2C394.8 303.7 399.2 299.3 402.5 294.5C405.8 289.7 408.3 284.1 411.2 279.5C414.2 274.9 416.7 271.9 420.0 267.0C423.3 262.1 427.3 254.9 431.2 250.0C435.2 245.1 440.0 241.0 443.8 237.5C447.5 234.0 450.4 230.6 453.8 228.8C457.1 226.9 460.6 227.1 463.8 226.2C466.9 225.4 469.6 225.8 472.5 223.8C475.4 221.7 478.8 216.2 481.2 213.8C483.8 211.2 485.2 209.6 487.5 208.8C489.8 207.9 492.5 209.7 495.0 208.8C497.5 207.8 499.7 204.8 502.5 203.0C505.3 201.2 509.1 199.5 512.0 198.0C514.9 196.5 517.0 195.3 520.0 194.0C523.0 192.7 526.5 191.0 530.0 190.0C533.5 189.0 538.3 189.0 541.2 187.8C544.2 186.5 545.4 184.0 547.5 182.8C549.6 181.5 551.2 180.9 553.8 180.2C556.2 179.6 559.8 178.6 562.5 179.0C565.2 179.4 567.4 181.9 570.0 182.8C572.6 183.6 574.7 184.0 578.0 184.0C581.3 184.0 586.8 183.8 590.0 183.0C593.2 182.2 595.4 180.6 597.5 179.0C599.6 177.4 600.8 174.7 602.5 173.4C604.2 172.1 605.6 171.7 607.5 171.2C609.4 170.8 612.1 170.6 613.8 170.9C615.4 171.2 615.6 172.2 617.5 173.1C619.4 174.0 622.1 174.9 625.0 176.2C627.9 177.6 632.1 179.6 635.0 181.2C637.9 182.9 639.6 184.0 642.5 186.2C645.4 188.5 649.2 191.9 652.5 195.0C655.8 198.1 659.6 201.9 662.5 205.0C665.4 208.1 667.5 210.8 670.0 213.8C672.5 216.7 674.6 219.4 677.5 222.5C680.4 225.6 684.4 228.8 687.5 232.5C690.6 236.2 693.8 240.8 696.2 245.0C698.8 249.2 700.4 252.9 702.5 257.5C704.6 262.1 706.9 267.7 708.8 272.5C710.6 277.3 712.1 281.5 713.8 286.2C715.4 291.0 717.1 296.3 718.8 301.2C720.4 306.2 722.1 311.0 723.8 316.0C725.4 321.0 726.7 325.2 728.8 331.0C730.8 336.8 734.0 344.1 736.2 351.0C738.5 357.9 740.6 365.6 742.5 372.2C744.4 378.9 745.9 385.5 747.5 391.0C749.1 396.5 750.4 400.2 752.0 405.0C753.6 409.8 755.3 414.8 757.0 420.0C758.7 425.2 760.3 430.7 762.0 436.0C763.7 441.3 765.4 447.0 767.0 452.0C768.6 457.0 770.8 463.7 771.5 466.0" stroke="#96e3dc"/>
<path class="s" d="M97.5 474.5C98.3 476.2 101.0 481.0 102.5 484.5C104.0 488.0 105.3 491.8 106.7 495.5C108.1 499.2 109.4 502.7 110.8 506.5C112.2 510.3 113.0 513.3 115.0 518.5C117.0 523.7 120.2 532.2 122.5 537.5C124.8 542.8 126.9 545.8 128.8 550.0C130.6 554.2 131.9 559.0 133.8 562.5C135.6 566.0 136.9 568.1 140.0 571.2C143.1 574.4 148.3 577.9 152.5 581.2C156.7 584.6 160.8 588.3 165.0 591.2C169.2 594.2 173.8 597.1 177.5 598.8C181.2 600.4 184.9 601.2 187.5 601.2C190.1 601.3 190.9 599.9 193.0 599.0C195.1 598.1 197.2 596.1 200.0 595.6C202.8 595.1 207.1 596.9 210.0 596.2C212.9 595.6 214.6 594.4 217.5 591.9C220.4 589.4 224.2 584.9 227.5 581.2C230.8 577.6 234.8 573.3 237.5 570.0C240.2 566.7 241.7 564.6 243.8 561.2C245.8 557.9 248.2 553.5 250.0 550.0C251.8 546.5 252.2 544.3 254.5 540.0C256.8 535.7 260.5 529.2 263.8 524.0C267.0 518.8 270.2 513.4 273.8 509.0C277.3 504.6 281.9 501.7 285.0 497.8C288.1 493.8 290.4 489.2 292.5 485.2C294.6 481.3 295.0 477.3 297.5 474.0C300.0 470.7 304.8 468.8 307.5 465.2C310.2 461.7 311.6 456.3 313.8 452.8C315.9 449.2 317.2 448.5 320.5 444.0C323.8 439.5 329.5 430.9 333.8 425.5C338.0 420.1 342.5 416.8 346.2 411.8C350.0 406.8 353.1 400.1 356.2 395.5C359.4 390.9 361.9 387.2 365.0 384.2C368.1 381.3 372.1 380.9 375.0 378.0C377.9 375.1 379.9 371.4 382.5 366.8C385.1 362.1 387.6 356.2 390.5 350.0C393.4 343.8 396.3 336.2 400.0 329.5C403.7 322.8 409.2 314.5 412.5 309.5C415.8 304.5 416.9 302.8 420.0 299.5C423.1 296.2 427.9 293.2 431.2 289.5C434.6 285.8 437.4 281.2 440.0 277.0C442.6 272.8 444.8 268.0 447.0 264.0C449.2 260.0 451.3 256.2 453.5 253.0C455.7 249.8 457.2 246.8 460.0 245.0C462.8 243.2 466.9 244.4 470.0 242.5C473.1 240.6 475.8 236.5 478.8 233.8C481.7 231.0 484.4 228.5 487.5 226.2C490.6 224.0 494.6 222.4 497.5 220.0C500.4 217.6 502.5 215.0 505.0 212.0C507.5 209.0 509.8 205.0 512.5 202.0C515.2 199.0 518.3 196.6 521.2 194.0C524.2 191.4 527.3 188.2 530.0 186.5C532.7 184.8 535.2 185.2 537.5 184.0C539.8 182.8 542.1 180.3 543.8 179.6C545.4 178.9 546.0 178.9 547.5 179.6C549.0 180.3 550.8 183.4 552.5 184.0C554.2 184.6 555.6 183.7 557.5 183.4C559.4 183.1 561.9 181.8 563.8 182.1C565.6 182.4 567.3 183.7 568.8 185.2C570.2 186.8 571.0 190.0 572.5 191.5C574.0 193.0 575.4 193.8 577.5 194.0C579.6 194.2 582.3 193.1 585.0 192.8C587.7 192.4 591.2 192.3 593.8 192.1C596.2 191.8 597.5 191.5 600.0 191.2C602.5 191.0 606.0 190.3 608.8 190.6C611.5 190.9 614.0 191.9 616.2 193.1C618.5 194.2 620.2 196.1 622.5 197.5C624.8 198.9 627.9 199.8 630.0 201.2C632.1 202.7 633.3 204.6 635.0 206.2C636.7 207.9 637.9 209.4 640.0 211.2C642.1 213.1 645.5 215.7 647.5 217.5C649.5 219.3 650.1 220.1 652.0 222.0C653.9 223.9 656.2 226.4 658.8 228.8C661.3 231.1 665.0 233.3 667.5 236.2C670.0 239.2 671.9 242.7 673.8 246.2C675.6 249.8 677.3 253.5 678.8 257.5C680.2 261.5 681.0 265.4 682.5 270.0C684.0 274.6 685.6 279.8 687.5 285.0C689.4 290.2 691.7 296.1 693.8 301.2C695.8 306.4 697.7 311.5 700.0 316.0C702.3 320.5 705.2 323.9 707.5 328.5C709.8 333.1 711.7 337.7 713.8 343.5C715.8 349.3 717.9 357.2 720.0 363.5C722.1 369.8 724.4 375.2 726.2 381.0C728.1 386.8 729.7 393.2 731.2 398.5C732.8 403.8 734.1 407.6 735.5 412.5C736.9 417.4 738.2 422.9 739.6 428.1C741.0 433.3 742.4 438.9 743.8 443.8C745.1 448.6 746.5 453.1 747.9 457.5C749.3 461.9 750.5 465.4 752.1 470.0C753.7 474.6 755.6 480.6 757.3 485.0C759.0 489.4 760.8 493.0 762.5 496.5C764.2 500.0 766.1 502.9 767.7 505.8C769.4 508.8 771.6 512.8 772.4 514.2" stroke="#951fab"/>
<path class="s" d="M97.5 518.8C99.0 521.2 103.8 529.8 106.2 533.8C108.8 537.7 111.0 540.4 112.5 542.5C114.0 544.6 113.5 543.5 115.0 546.2C116.5 549.0 119.2 554.4 121.2 558.8C123.3 563.1 125.0 568.1 127.5 572.5C130.0 576.9 133.1 580.8 136.2 585.0C139.4 589.2 143.1 594.4 146.2 597.5C149.4 600.6 150.8 602.1 155.0 603.8" stroke="#cf2228" stroke-dasharray="8,6" stroke-dashoffset="0.0"/>
<path class="s" d="M155.0 603.8C159.2 605.4 166.2 606.4 171.2 607.5C176.2 608.6 180.2 609.8 185.0 610.6C189.8 611.4 196.2 611.9 200.0 612.5C203.8 613.1 205.0 614.1 207.5 614.4C210.0 614.7 212.1 615.2 215.0 614.4C217.9 613.6 221.2 611.7 225.0 609.4C228.8 607.1 233.8 603.5 237.5 600.6C241.2 597.7 244.0 594.9 247.5 591.9C251.0 588.9 255.4 585.7 258.8 582.5C262.1 579.3 264.8 576.7 267.5 572.5C270.2 568.3 272.1 562.5 275.0 557.5C277.9 552.5 282.7 546.0 285.0 542.5C287.3 539.0 286.7 540.2 288.8 536.5C290.8 532.8 294.6 525.5 297.5 520.2" stroke="#cf2228" stroke-dasharray="8,6" stroke-dashoffset="0.8"/>
<path class="s" d="M297.5 520.2C300.4 515.0 303.7 509.6 306.2 505.2C308.8 500.9 310.7 497.8 313.0 494.0C315.3 490.2 317.6 486.7 320.0 482.8C322.4 478.8 325.0 474.4 327.5 470.2C330.0 466.1 332.9 461.5 335.0 457.8C337.1 454.0 338.8 450.0 340.0 447.8C341.2 445.5 341.0 446.9 342.5 444.0C344.0 441.1 346.5 434.6 348.8 430.5C351.0 426.4 353.5 423.0 356.2 419.2C359.0 415.5 362.1 411.8 365.0 408.0C367.9 404.2 371.0 400.7 373.8 396.8C376.5 392.8 379.0 388.4 381.2 384.2C383.5 380.1 385.4 376.1 387.5 371.8C389.6 367.4 391.6 361.9 393.8 358.0C395.9 354.1 397.8 352.2 400.5 348.5C403.2 344.8 406.9 339.8 410.0 335.8C413.1 331.7 415.9 328.0 419.0 324.0C422.1 320.0 425.8 316.0 428.8 312.0C431.8 308.0 434.3 304.0 437.0 300.0C439.7 296.0 442.0 292.1 445.0 288.2" stroke="#cf2228" stroke-dasharray="8,6" stroke-dashoffset="13.2"/>
<path class="s" d="M445.0 288.2C448.0 284.4 451.7 280.7 455.0 277.0C458.3 273.3 462.5 269.2 465.0 266.0C467.5 262.8 467.5 261.1 470.0 257.5C472.5 253.9 476.7 248.3 480.0 244.5C483.3 240.7 486.7 237.4 490.0 234.5C493.3 231.6 496.2 229.6 500.0 227.0C503.8 224.4 508.8 220.9 512.5 218.8C516.2 216.6 519.8 215.4 522.5 214.0C525.2 212.6 526.5 212.4 528.8 210.2C531.0 208.1 533.5 202.5 536.2 200.9C539.0 199.3 542.3 200.9 545.0 200.9C547.7 200.9 550.2 201.8 552.5 200.9C554.8 200.0 556.7 196.5 558.8 195.2C560.8 194.0 562.7 193.9 565.0 193.4C567.3 192.9 570.4 191.9 572.5 192.1C574.6 192.3 575.2 194.0 577.5 194.6C579.8 195.2 583.5 195.3 586.2 195.9C589.0 196.5 591.5 198.1 593.8 198.4C596.0 198.7 597.7 198.1 600.0 197.8C602.3 197.4 605.0 197.2 607.5 196.2C610.0 195.3 612.6 192.4 615.0 191.9C617.4 191.4 619.3 192.2 622.0 193.0C624.7 193.8 627.8 195.1 631.2 196.9" stroke="#cf2228" stroke-dasharray="8,6" stroke-dashoffset="2.6"/>
<path class="s" d="M631.2 196.9C634.7 198.7 638.5 201.8 642.5 203.8C646.5 205.7 651.2 206.1 655.0 208.8C658.8 211.4 662.4 215.5 665.5 219.5C668.6 223.5 671.3 227.8 673.8 232.5C676.2 237.2 678.1 243.1 680.0 247.5C681.9 251.9 683.3 255.0 685.0 258.8C686.7 262.5 688.2 265.8 690.0 270.0C691.8 274.2 693.8 279.2 696.0 284.0C698.2 288.8 701.2 294.0 703.5 298.8C705.8 303.5 707.9 308.0 710.0 312.5C712.1 317.0 714.0 321.1 716.0 326.0C718.0 330.9 719.9 336.7 721.8 342.0C723.7 347.3 725.6 352.5 727.5 358.0C729.4 363.5 731.2 369.3 733.0 375.0C734.8 380.7 736.8 386.2 738.5 392.0C740.2 397.8 741.3 404.0 743.0 410.0C744.7 416.0 746.7 422.2 748.5 428.0C750.3 433.8 752.2 439.6 754.0 445.0C755.8 450.4 757.2 455.3 759.0 460.4C760.8 465.5 762.8 471.2 764.6 475.6C766.4 480.0 768.9 485.1 769.8 487.0" stroke="#cf2228" stroke-dasharray="8,6" stroke-dashoffset="5.0"/>
<path class="s" d="M97.5 494.0C98.3 495.9 100.6 501.4 102.5 505.5C104.4 509.6 106.5 512.8 108.8 518.5C111.0 524.2 114.0 534.3 116.2 540.0C118.5 545.7 120.2 548.3 122.5 552.5C124.8 556.7 127.5 561.0 130.0 565.0C132.5 569.0 134.8 572.5 137.5 576.2C140.2 580.0 143.3 584.2 146.2 587.5C149.2 590.8 151.9 593.3 155.0 596.2C158.1 599.2 161.2 602.7 165.0 605.0C168.8 607.3 173.3 608.9 177.5 610.0C181.7 611.1 185.8 611.7 190.0 611.9C194.2 612.1 198.8 612.2 202.5 611.2C206.2 610.3 209.4 608.5 212.5 606.2C215.6 604.0 218.5 600.4 221.2 597.5C224.0 594.6 226.0 591.9 228.8 588.8C231.5 585.6 234.8 581.9 237.5 578.8C240.2 575.6 242.9 573.3 245.0 570.0C247.1 566.7 248.1 562.1 250.0 558.8C251.9 555.4 253.8 552.7 256.2 550.0C258.8 547.3 263.1 544.3 265.0 542.5C266.9 540.7 264.6 542.1 267.5 539.0C270.4 535.9 277.9 529.0 282.5 524.0C287.1 519.0 290.8 513.2 295.0 509.0C299.2 504.8 303.8 502.8 307.5 499.0C311.2 495.2 314.4 491.5 317.5 486.5C320.6 481.5 323.8 474.4 326.2 469.0C328.8 463.6 330.4 458.2 332.5 454.0C334.6 449.8 336.5 448.1 338.8 444.0C341.0 439.9 343.3 434.2 346.2 429.2C349.2 424.3 353.5 419.0 356.2 414.2C359.0 409.5 360.0 404.5 362.5 400.5C365.0 396.5 368.8 394.0 371.2 390.5C373.8 387.0 375.2 383.4 377.5 379.2C379.8 375.1 382.0 370.6 385.0 365.5C388.0 360.4 392.2 354.5 395.5 348.5C398.8 342.5 401.8 334.5 405.0 329.5C408.2 324.5 411.7 322.8 415.0 318.2C418.3 313.7 421.2 307.8 425.0 302.0C428.8 296.2 433.3 289.2 437.5 283.2C441.7 277.2 445.2 271.5 450.0 266.0C454.8 260.5 461.2 254.8 466.2 250.0C471.2 245.2 475.8 241.2 480.0 237.5C484.2 233.8 486.2 231.0 491.2 227.5C496.2 224.0 505.4 219.4 510.0 216.5C514.6 213.6 515.8 212.3 518.8 210.2C521.7 208.2 524.4 206.1 527.5 204.0C530.6 201.9 534.4 199.0 537.5 197.8C540.6 196.5 543.3 196.8 546.2 196.5C549.2 196.2 552.3 195.5 555.0 195.9C557.7 196.3 560.4 198.2 562.5 199.0C564.6 199.8 565.8 200.4 567.5 200.9C569.2 201.4 570.8 202.4 572.5 202.1C574.2 201.8 576.0 200.7 577.5 199.0C579.0 197.3 579.8 193.7 581.2 192.1C582.7 190.5 584.2 190.0 586.2 189.6C588.3 189.2 591.5 189.9 593.8 189.6C596.0 189.3 598.1 188.1 600.0 187.6C601.9 187.1 602.9 186.3 605.0 186.4C607.1 186.5 609.8 187.5 612.5 188.2C615.2 189.0 618.5 190.1 621.2 191.0C624.0 191.9 626.2 192.5 628.8 193.8C631.2 195.0 634.0 196.7 636.2 198.8C638.5 200.8 640.2 203.8 642.5 206.2C644.8 208.8 647.7 211.5 650.0 213.8C652.3 216.0 654.6 218.0 656.5 220.0C658.4 222.0 659.8 224.3 661.2 226.0C662.7 227.7 663.1 227.5 665.0 230.0C666.9 232.5 670.0 237.5 672.5 241.2C675.0 245.0 677.7 249.0 680.0 252.5C682.3 256.0 684.2 259.0 686.2 262.5C688.3 266.0 690.4 269.8 692.5 273.8C694.6 277.7 696.5 281.9 698.8 286.2C701.0 290.6 703.6 295.0 706.2 300.0C708.9 305.0 712.0 310.8 714.5 316.0C717.0 321.2 719.1 325.6 721.2 331.0C723.4 336.4 725.4 342.5 727.5 348.5C729.6 354.5 731.9 361.0 733.8 367.2C735.6 373.5 737.3 380.0 738.8 386.0C740.2 392.0 741.4 398.2 742.5 403.0C743.6 407.8 744.4 409.6 745.5 415.0C746.6 420.4 747.9 429.6 749.0 435.4C750.1 441.2 751.0 444.7 752.1 450.0C753.2 455.3 754.2 461.2 755.4 467.2C756.6 473.2 758.2 480.8 759.4 486.0C760.6 491.2 761.5 494.9 762.5 498.5C763.5 502.1 764.4 504.6 765.6 507.9C766.8 511.2 769.1 516.6 769.8 518.3" stroke="#ec9332"/>
<path class="s" d="M97.5 525.0C98.8 527.3 102.5 534.4 105.0 538.8C107.5 543.1 110.0 547.3 112.5 551.2C115.0 555.2 117.5 559.2 120.0 562.5C122.5 565.8 124.2 567.9 127.5 571.2C130.8 574.6 135.8 579.4 140.0 582.5C144.2 585.6 148.3 588.1 152.5 590.0C156.7 591.9 160.8 592.3 165.0 593.8C169.2 595.2 173.3 597.3 177.5 598.8C181.7 600.2 185.8 601.5 190.0 602.5C194.2 603.5 199.6 604.6 202.5 605.0C205.4 605.4 205.2 605.5 207.5 605.0C209.8 604.5 213.3 603.1 216.2 601.9C219.2 600.6 221.9 599.3 225.0 597.5C228.1 595.7 231.9 593.5 235.0 591.2C238.1 589.0 240.8 586.7 243.8 583.8C246.7 580.8 249.4 576.9 252.5 573.8C255.6 570.6 259.6 568.3 262.5 565.0C265.4 561.7 267.3 557.9 270.0 553.8C272.7 549.6 275.6 545.4 278.8 540.0C281.9 534.6 285.6 526.7 288.8 521.5C291.9 516.3 294.4 512.3 297.5 509.0C300.6 505.7 303.8 505.2 307.5 501.5C311.2 497.8 316.5 491.5 320.0 486.5C323.5 481.5 326.2 475.7 328.8 471.5C331.2 467.3 333.1 464.4 335.0 461.5C336.9 458.6 338.1 456.9 340.0 454.0C341.9 451.1 343.8 448.3 346.2 444.0C348.8 439.7 352.3 433.2 355.0 428.0C357.7 422.8 359.6 417.4 362.5 413.0C365.4 408.6 369.2 405.9 372.5 401.8C375.8 397.6 379.6 393.0 382.5 388.0C385.4 383.0 387.5 376.5 390.0 371.8C392.5 367.0 394.6 363.2 397.5 359.2C400.4 355.3 404.6 352.3 407.5 348.0C410.4 343.7 412.7 337.8 415.0 333.2C417.3 328.7 419.2 324.7 421.2 320.8C423.3 316.8 425.2 312.6 427.5 309.5C429.8 306.4 432.5 304.9 435.0 302.0C437.5 299.1 440.0 295.5 442.5 292.0C445.0 288.5 447.5 284.3 450.0 280.8C452.5 277.2 455.6 273.2 457.5 270.8C459.4 268.3 459.8 268.2 461.2 266.0C462.7 263.8 464.0 260.0 466.2 257.5C468.5 255.0 472.7 253.8 475.0 251.2C477.3 248.8 477.3 245.6 480.0 242.5C482.7 239.4 487.6 236.1 491.2 232.5C494.9 228.9 498.5 224.7 502.0 221.0C505.5 217.3 508.7 213.5 512.5 210.2C516.3 207.0 520.8 204.0 525.0 201.5C529.2 199.0 533.8 197.1 537.5 195.2C541.2 193.4 544.8 191.9 547.5 190.2C550.2 188.6 551.9 186.1 553.8 185.2C555.6 184.4 557.1 184.8 558.8 185.2C560.4 185.7 561.9 187.6 563.8 187.8C565.6 187.9 567.7 186.6 570.0 185.9C572.3 185.2 575.0 183.3 577.5 183.4C580.0 183.5 582.9 186.5 585.0 186.5C587.1 186.5 588.1 184.2 590.0 183.4C591.9 182.6 594.0 181.7 596.2 181.5C598.5 181.3 601.5 181.8 603.8 182.1C606.0 182.4 608.1 183.3 610.0 183.4C611.9 183.5 613.1 182.3 615.0 182.8C616.9 183.2 619.0 185.5 621.2 186.2C623.5 187.0 626.5 186.7 628.8 187.5C631.0 188.3 632.9 189.6 635.0 191.2C637.1 192.9 639.2 195.2 641.2 197.5C643.3 199.8 645.4 202.5 647.5 205.0C649.6 207.5 651.6 210.0 653.8 212.5C655.9 215.0 658.2 216.7 660.5 220.0C662.8 223.3 665.1 228.5 667.5 232.5C669.9 236.5 672.7 240.0 675.0 243.8C677.3 247.5 679.2 251.0 681.2 255.0C683.3 259.0 685.4 263.8 687.5 267.5C689.6 271.2 691.7 273.8 693.8 277.5C695.8 281.2 697.9 285.8 700.0 290.0C702.1 294.2 704.3 298.2 706.2 302.5C708.2 306.8 709.4 311.0 711.5 316.0C713.6 321.0 716.5 326.4 718.8 332.2C721.0 338.1 722.9 344.8 725.0 351.0C727.1 357.2 729.4 363.7 731.2 369.8C733.1 375.8 734.8 381.9 736.2 387.2C737.7 392.6 738.9 397.6 740.0 402.0C741.1 406.4 741.6 409.5 742.7 413.5C743.9 417.5 745.5 421.8 746.9 426.0C748.3 430.2 749.6 434.1 751.0 438.5C752.4 442.9 754.0 448.0 755.2 452.1C756.5 456.2 756.9 458.2 758.5 463.0C760.1 467.8 762.6 476.0 764.6 480.8C766.6 485.6 769.3 490.0 770.3 491.8" stroke="#135a33"/>
<path class="s" d="M97.5 499.0C98.3 500.8 100.6 506.5 102.5 510.0C104.4 513.5 106.7 516.7 108.8 520.0C110.8 523.3 113.1 526.4 115.0 530.0C116.9 533.6 117.9 537.6 120.0 541.5C122.1 545.4 124.8 549.7 127.5 553.5C130.2 557.3 132.1 560.5 136.2 564.5C140.4 568.5 147.3 573.7 152.5 577.5C157.7 581.3 163.3 585.0 167.5 587.5C171.7 590.0 173.8 590.8 177.5 592.5C181.2 594.2 186.2 597.1 190.0 598.0C193.8 598.9 196.2 598.0 200.0 598.0C203.8 598.0 209.4 598.9 212.5 598.0C215.6 597.1 216.7 594.7 218.8 592.5C220.8 590.3 222.7 587.9 225.0 585.0C227.3 582.1 229.8 578.8 232.5 575.0C235.2 571.2 238.3 566.2 241.2 562.5C244.2 558.8 247.1 555.6 250.0 552.5C252.9 549.4 256.8 545.8 258.8 543.8C260.8 541.7 259.7 542.5 262.0 540.0C264.3 537.5 269.1 533.3 272.5 529.0C275.9 524.7 278.8 519.0 282.5 514.0C286.2 509.0 290.8 504.0 295.0 499.0C299.2 494.0 304.4 489.0 307.5 484.0C310.6 479.0 311.0 474.0 313.8 469.0C316.5 464.0 320.7 458.2 323.8 454.0C326.8 449.8 328.9 448.3 332.0 444.0C335.1 439.7 339.1 432.8 342.5 428.0C345.9 423.2 349.6 420.5 352.5 415.5C355.4 410.5 357.1 403.6 360.0 398.0C362.9 392.4 366.7 387.0 370.0 381.8C373.3 376.5 376.9 371.5 380.0 366.8C383.1 362.0 386.9 356.1 388.8 353.0C390.6 349.9 388.8 352.3 391.2 348.0C393.8 343.7 399.6 333.6 403.8 327.0C407.9 320.4 412.3 313.5 416.2 308.2C420.2 303.0 424.0 299.9 427.5 295.8C431.0 291.6 434.2 287.4 437.5 283.2C440.8 279.1 444.4 273.8 447.5 270.8C450.6 267.7 452.9 267.6 456.0 265.0C459.1 262.4 462.5 259.0 466.2 255.0C470.0 251.0 474.6 245.4 478.8 241.2C482.9 237.1 487.3 233.5 491.2 230.0C495.2 226.5 499.0 223.3 502.5 220.0C506.0 216.7 509.6 213.1 512.5 210.2C515.4 207.4 517.5 205.0 520.0 202.8C522.5 200.5 525.0 198.5 527.5 196.5C530.0 194.5 533.8 191.8 535.0 190.9" stroke="#2292d6"/>
</g>
<path d="M97.5 74V671" stroke="#999999" stroke-width="2" fill="none"/>
<path d="M96.5 670H779" stroke="#999999" stroke-width="2" fill="none"/>
<text x="487.5" y="25" text-anchor="middle" font-size="17.7" fill="#333333">Antarctic Sea Ice Extent</text>
<text x="487.5" y="54" text-anchor="middle" font-size="11.7" fill="#666666">(Area of ocean with at least 15% sea ice)</text>
<g class="ax" text-anchor="end">
<text x="82" y="78.0">22.5</text>
<text x="82" y="144.2">20</text>
<text x="82" y="210.4">17.5</text>
<text x="82" y="276.7">15</text>
<text x="82" y="342.9">12.5</text>
<text x="82" y="409.1">10</text>
<text x="82" y="475.3">7.5</text>
<text x="82" y="541.5">5</text>
<text x="82" y="607.8">2.5</text>
<text x="82" y="674.0">0</text>
</g>
<g class="ax" text-anchor="middle">
<text x="98.0" y="693">1 Jan</text>
<text x="155.2" y="693">1 Feb</text>
<text x="208.8" y="693">1 Mar</text>
<text x="266.0" y="693">1 Apr</text>
<text x="321.6" y="693">1 May</text>
<text x="378.8" y="693">1 Jun</text>
<text x="434.1" y="693">1 Jul</text>
<text x="491.5" y="693">1 Aug</text>
<text x="548.7" y="693">1 Sep</text>
<text x="604.1" y="693">1 Oct</text>
<text x="661.5" y="693">1 Nov</text>
<text x="716.8" y="693">1 Dec</text>
<text x="772" y="693">31</text><text x="772" y="711">Dec</text>
</g>
<text transform="translate(34,372) rotate(-90)" text-anchor="middle" font-size="18" fill="#333333">Extent (Millions of square kilometers)</text>
<text x="438.5" y="743" text-anchor="middle" font-size="17.4" fill="#333333">Date</text>
<text x="965" y="763" text-anchor="end" font-size="9" fill="#999999">National Snow and Ice Data Center, Boulder, CO</text>
<g class="lg">
<rect x="792.3" y="11.1" width="171" height="257.4" rx="5" ry="5" fill="#ffffff" stroke="#333333" stroke-width="1"/>
<path d="M800 23.6H816" stroke="#808080" stroke-width="3" fill="none"/>
<text x="822" y="26.9" textLength="107.2" lengthAdjust="spacingAndGlyphs">1981–2010 Median</text>
<rect x="800" y="34.7" width="16" height="12" fill="#a9a9a9"/>
<text x="822" y="44.5" textLength="105.8" lengthAdjust="spacingAndGlyphs">Interquartile Range</text>
<rect x="800" y="52.4" width="16" height="12" fill="#d3d3d3"/>
<text x="822" y="62.2" textLength="95.5" lengthAdjust="spacingAndGlyphs">Interdecile Range</text>
<path d="M800 76.5H816" stroke="#2292d6" stroke-width="2" fill="none"/>
<text x="822" y="79.8" textLength="27.9" lengthAdjust="spacingAndGlyphs">2020</text>
<path d="M800 94.2H816" stroke="#135a33" stroke-width="2" fill="none"/>
<text x="822" y="97.5" textLength="27.9" lengthAdjust="spacingAndGlyphs">2019</text>
<path d="M800 111.8H816" stroke="#ec9332" stroke-width="2" fill="none"/>
<text x="822" y="115.1" textLength="27.9" lengthAdjust="spacingAndGlyphs">2018</text>
<path d="M800 129.4H816" stroke="#cf2228" stroke-width="2" stroke-dasharray="8,6" fill="none"/>
<text x="822" y="132.7" textLength="133.9" lengthAdjust="spacingAndGlyphs">2017 (Record minimum)</text>
<path d="M800 147.1H816" stroke="#951fab" stroke-width="2" fill="none"/>
<text x="822" y="150.4" textLength="27.9" lengthAdjust="spacingAndGlyphs">2016</text>
<path d="M800 164.7H816" stroke="#96e3dc" stroke-width="2" fill="none"/>
<text x="822" y="168.0" textLength="27.9" lengthAdjust="spacingAndGlyphs">2015</text>
<path d="M800 182.4H816" stroke="#82b3e4" stroke-width="2" fill="none"/>
<text x="822" y="185.7" textLength="27.9" lengthAdjust="spacingAndGlyphs">2014</text>
<path d="M800 200.0H816" stroke="#404046" stroke-width="2" fill="none"/>
<text x="822" y="203.3" textLength="27.9" lengthAdjust="spacingAndGlyphs">2013</text>
<path d="M800 217.6H816" stroke="#94e386" stroke-width="2" fill="none"/>
<text x="822" y="220.9" textLength="27.9" lengthAdjust="spacingAndGlyphs">2012</text>
<path d="M800 235.3H816" stroke="#f3a873" stroke-width="2" fill="none"/>
<text x="822" y="238.6" textLength="27.9" lengthAdjust="spacingAndGlyphs">2011</text>
<path d="M800 252.9H816" stroke="#8588e2" stroke-width="2" fill="none"/>
<text x="822" y="256.2" textLength="27.9" lengthAdjust="spacingAndGlyphs">2010</text>
</g>
</svg></body></html>
